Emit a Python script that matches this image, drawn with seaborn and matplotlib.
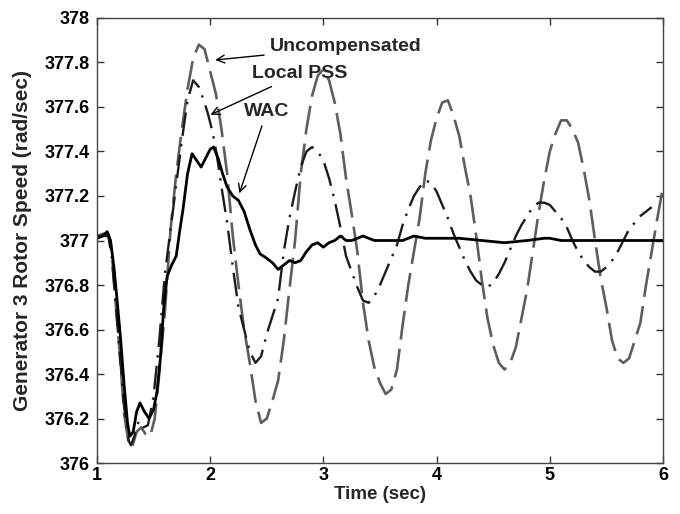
import numpy as np
import pandas as pd
import matplotlib
matplotlib.use('Agg')
import matplotlib.pyplot as plt
import seaborn as sns

# Uncompensated response
t_unc = [1.00, 1.05, 1.10, 1.13, 1.16, 1.20, 1.24, 1.28, 1.31, 1.35, 1.39, 1.43, 1.47, 1.51, 1.55,
         1.60, 1.65, 1.70, 1.75, 1.80, 1.85, 1.90, 1.95, 2.00, 2.05, 2.10, 2.15, 2.20, 2.25, 2.30,
         2.35, 2.40, 2.45, 2.50, 2.55, 2.60, 2.65, 2.70, 2.75, 2.80, 2.85, 2.90, 2.95, 3.00, 3.05,
         3.10, 3.15, 3.20, 3.25, 3.30, 3.35, 3.40, 3.45, 3.50, 3.55, 3.60, 3.65, 3.70, 3.75, 3.80,
         3.85, 3.90, 3.95, 4.00, 4.05, 4.10, 4.15, 4.20, 4.25, 4.30, 4.35, 4.40, 4.45, 4.50, 4.55,
         4.60, 4.65, 4.70, 4.75, 4.80, 4.85, 4.90, 4.95, 5.00, 5.05, 5.10, 5.15, 5.20, 5.25, 5.30,
         5.35, 5.40, 5.45, 5.50, 5.55, 5.60, 5.65, 5.70, 5.75, 5.80, 5.85, 5.90, 5.95, 6.00]
w_unc = [377.02, 377.03, 377.03, 376.95, 376.75, 376.50, 376.22, 376.09, 376.07, 376.14, 376.16, 376.13, 376.12, 376.20, 376.40,
         376.68, 377.05, 377.30, 377.50, 377.68, 377.82, 377.88, 377.86, 377.76, 377.66, 377.50, 377.30, 377.02, 376.80, 376.60,
         376.45, 376.28, 376.18, 376.20, 376.28, 376.37, 376.55, 376.78, 377.00, 377.30, 377.50, 377.65, 377.74, 377.77, 377.72,
         377.62, 377.48, 377.28, 377.12, 376.95, 376.72, 376.55, 376.43, 376.36, 376.31, 376.33, 376.42, 376.62, 376.80, 376.95,
         377.10, 377.30, 377.45, 377.55, 377.62, 377.63, 377.56, 377.47, 377.33, 377.20, 377.02, 376.82, 376.65, 376.53, 376.45,
         376.42, 376.45, 376.52, 376.65, 376.78, 376.95, 377.12, 377.27, 377.40, 377.48, 377.54, 377.54, 377.50, 377.44, 377.32,
         377.18, 377.00, 376.83, 376.70, 376.55, 376.47, 376.45, 376.47, 376.55, 376.63, 376.80, 376.95, 377.10, 377.24]

# Local PSS
t_pss = [1.00, 1.05, 1.10, 1.13, 1.16, 1.20, 1.24, 1.28, 1.30, 1.33, 1.37, 1.41, 1.45, 1.50, 1.55,
         1.60, 1.65, 1.70, 1.75, 1.80, 1.85, 1.90, 1.95, 1.98, 2.02, 2.06, 2.10, 2.15, 2.20, 2.25,
         2.30, 2.35, 2.40, 2.45, 2.50, 2.55, 2.60, 2.65, 2.70, 2.75, 2.80, 2.85, 2.90, 2.95, 3.00,
         3.05, 3.10, 3.15, 3.20, 3.25, 3.30, 3.35, 3.40, 3.45, 3.50, 3.55, 3.60, 3.65, 3.70, 3.75,
         3.80, 3.85, 3.90, 3.95, 4.00, 4.05, 4.10, 4.15, 4.20, 4.25, 4.30, 4.35, 4.40, 4.45, 4.50,
         4.55, 4.60, 4.65, 4.70, 4.75, 4.80, 4.85, 4.90, 4.95, 5.00, 5.05, 5.10, 5.15, 5.20, 5.25,
         5.30, 5.35, 5.40, 5.45, 5.50, 5.55, 5.60, 5.65, 5.70, 5.75, 5.80, 5.85, 5.90]
w_pss = [377.02, 377.02, 377.02, 376.93, 376.75, 376.50, 376.25, 376.10, 376.08, 376.12, 376.19, 376.16, 376.17, 376.30, 376.55,
         376.85, 377.05, 377.25, 377.45, 377.63, 377.72, 377.69, 377.62, 377.57, 377.49, 377.38, 377.24, 377.08, 376.88, 376.70,
         376.60, 376.50, 376.45, 376.48, 376.58, 376.66, 376.74, 376.95, 377.10, 377.22, 377.33, 377.40, 377.42, 377.40, 377.36,
         377.28, 377.18, 377.06, 376.93, 376.86, 376.79, 376.73, 376.72, 376.75, 376.80, 376.86, 376.92, 376.98, 377.07, 377.14,
         377.20, 377.24, 377.27, 377.26, 377.22, 377.16, 377.10, 377.03, 376.97, 376.91, 376.86, 376.82, 376.80, 376.79, 376.81,
         376.85, 376.90, 376.96, 377.02, 377.07, 377.11, 377.15, 377.17, 377.17, 377.16, 377.13, 377.10, 377.06, 377.00, 376.95,
         376.91, 376.88, 376.86, 376.86, 376.88, 376.91, 376.95, 377.00, 377.05, 377.08, 377.11, 377.13, 377.15]

# WAC
t_wac = [1.00, 1.05, 1.09, 1.12, 1.15, 1.18, 1.21, 1.24, 1.27, 1.29, 1.32, 1.35, 1.38, 1.42, 1.46,
         1.50, 1.53, 1.56, 1.59, 1.62, 1.66, 1.70, 1.73, 1.76, 1.80, 1.84, 1.88, 1.92, 1.96, 2.00,
         2.03, 2.07, 2.11, 2.15, 2.20, 2.25, 2.30, 2.35, 2.40, 2.44, 2.50, 2.55, 2.60, 2.65, 2.70,
         2.75, 2.80, 2.85, 2.90, 2.95, 3.00, 3.05, 3.10, 3.15, 3.20, 3.25, 3.30, 3.35, 3.40, 3.45,
         3.50, 3.60, 3.70, 3.80, 3.90, 4.00, 4.20, 4.40, 4.60, 4.80, 4.95, 5.00, 5.10, 5.30, 5.60, 6.00]
w_wac = [377.01, 377.02, 377.04, 377.00, 376.88, 376.72, 376.55, 376.35, 376.18, 376.12, 376.14, 376.23, 376.27, 376.23, 376.20,
         376.24, 376.32, 376.47, 376.70, 376.84, 376.89, 376.93, 377.04, 377.14, 377.30, 377.39, 377.36, 377.33, 377.37, 377.41,
         377.42, 377.37, 377.30, 377.24, 377.20, 377.18, 377.13, 377.05, 376.98, 376.94, 376.92, 376.90, 376.87, 376.89, 376.91,
         376.90, 376.91, 376.95, 376.98, 376.99, 376.97, 376.99, 377.00, 377.02, 377.00, 377.00, 377.01, 377.02, 377.01, 377.00,
         377.00, 377.00, 377.00, 377.02, 377.01, 377.01, 377.01, 377.00, 376.99, 377.00, 377.01, 377.01, 377.00, 377.00, 377.00, 377.00]

x_ticks = [1, 2, 3, 4, 5, 6]
y_ticks = [376, 376.2, 376.4, 376.6, 376.8, 377, 377.2, 377.4, 377.6, 377.8, 378]
y_tick_labels = ['376', '376.2', '376.4', '376.6', '376.8', '377', '377.2', '377.4', '377.6', '377.8', '378']

sns.set_style('ticks')
plt.rcParams['font.family'] = ['Liberation Sans', 'DejaVu Sans']
plt.rcParams['font.weight'] = 'bold'

fig = plt.figure(figsize=(6.8, 5.14), dpi=100)
ax = fig.add_axes([0.1426, 0.0992, 0.8324, 0.8658])

sns.lineplot(x=t_unc, y=w_unc, ax=ax, color='#5e5e5e', lw=1.9,
             linestyle=(0, (11, 3.5)), errorbar=None, sort=False)
sns.lineplot(x=t_pss, y=w_pss, ax=ax, color='#1c1c1c', lw=1.7,
             linestyle=(0, (10, 3.5, 1, 3.5)), errorbar=None, sort=False)
sns.lineplot(x=t_wac, y=w_wac, ax=ax, color='black', lw=2.0, errorbar=None, sort=False)

ax.set_xlim(1, 6)
ax.set_ylim(376, 378)
ax.set_xticks(x_ticks)
ax.set_xticklabels([str(v) for v in x_ticks])
ax.set_yticks(y_ticks)
ax.set_yticklabels(y_tick_labels)
ax.tick_params(direction='in', length=5, width=1, top=True, right=True,
               labelsize=13, colors='#333333', labelcolor='black', pad=3)
ax.tick_params(axis='y', pad=5)
for lab in ax.get_xticklabels() + ax.get_yticklabels():
    lab.set_fontweight('bold')
for sp in ax.spines.values():
    sp.set_visible(True)
    sp.set_color('#444444')
    sp.set_linewidth(1.0)

ax.set_xlabel('Time (sec)', fontsize=13.5, fontweight='bold', labelpad=1)
ax.set_ylabel('Generator 3 Rotor Speed (rad/sec)', fontsize=15, fontweight='bold', labelpad=9)

arrow = dict(arrowstyle='->', color='black', lw=1.0)
ax.annotate('Uncompensated', xy=(2.02, 377.81), xytext=(2.53, 377.87),
            fontsize=14, fontweight='bold', ha='left', va='center', arrowprops=arrow)
ax.annotate('Local PSS', xy=(1.98, 377.56), xytext=(2.79, 377.75),
            fontsize=14, fontweight='bold', ha='center', va='center', arrowprops=arrow)
ax.annotate('WAC', xy=(2.25, 377.2), xytext=(2.50, 377.58),
            fontsize=14, fontweight='bold', ha='center', va='center', arrowprops=arrow)

fig.savefig('out.png', dpi=100)
